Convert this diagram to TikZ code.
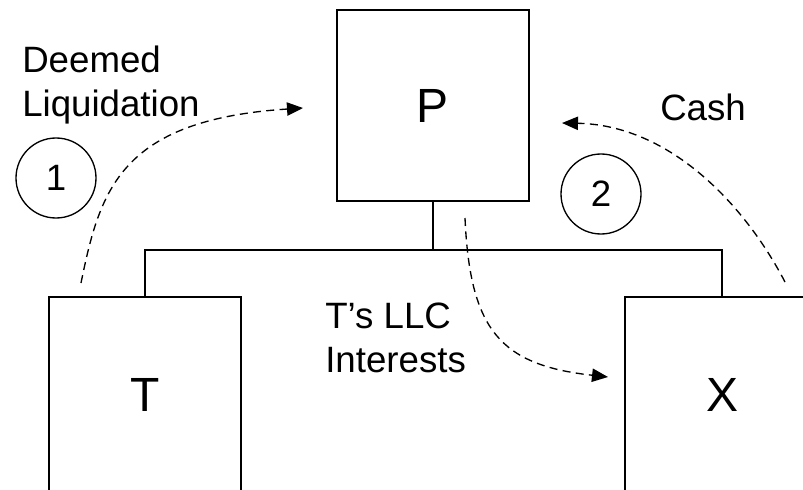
\documentclass[tikz,border=0pt]{standalone}
\usepackage{fontspec}
\setmainfont{Liberation Sans}
\usetikzlibrary{arrows.meta,positioning}

\begin{document}
\begin{tikzpicture}[x=0.75pt,y=-0.75pt,
 box/.style={draw,line width=1.5pt,minimum width=144pt,inner sep=0pt,font=\fontsize{36}{43}\selectfont},
 num/.style={draw,circle,line width=1pt,minimum size=60pt,inner sep=0pt,font=\fontsize{27.5}{33}\selectfont},
 lbl/.style={align=left,inner sep=0pt,font=\fontsize{27.5}{33}\selectfont},
 flow/.style={dash pattern=on 6pt off 4pt,line width=1pt,-{Triangle[length=12pt,width=10pt]}},
 tree/.style={line width=1.5pt}
]
\useasboundingbox (0,0) rectangle (803,489);
\clip (0,0) rectangle (803,489);
% entities
\node[box,minimum height=143pt] (P) at (433,105.5) {P};
\node[box,minimum height=147pt] (T) at (145,395) {T};
\node[box,minimum height=147pt,minimum width=145.5pt] (X) at (722,395) {X};
\draw[tree] (P.south) -- ++(0,48) coordinate (bar) -| (T.north);
\draw[tree] (bar) -| (X.north);
% steps
\node[num] (one) at (56,178) {1};
\node[num] (two) at (601,194) {2};
\node[lbl,anchor=base west] (dl) at (22,116) {Deemed\\Liquidation};
\node[lbl,anchor=base west] (cash) at (660,120) {Cash};
\node[lbl,anchor=base west] (llc) at (325,372) {T’s LLC\\Interests};
% flows
\coordinate (dls) at (81,283);
\coordinate (dle) at (303,108);
\coordinate (cs) at (785,282);
\coordinate (ce) at (562,123);
\coordinate (ls) at (465,218);
\coordinate (le) at (608,377);
\draw[flow] (dls) .. controls (100,190) and (120,120) .. (dle);
\draw[flow] (cs) .. controls (745,205) and (670,125) .. (ce);
\draw[flow] (ls) .. controls (470,330) and (500,365) .. (le);
\end{tikzpicture}
\end{document}
